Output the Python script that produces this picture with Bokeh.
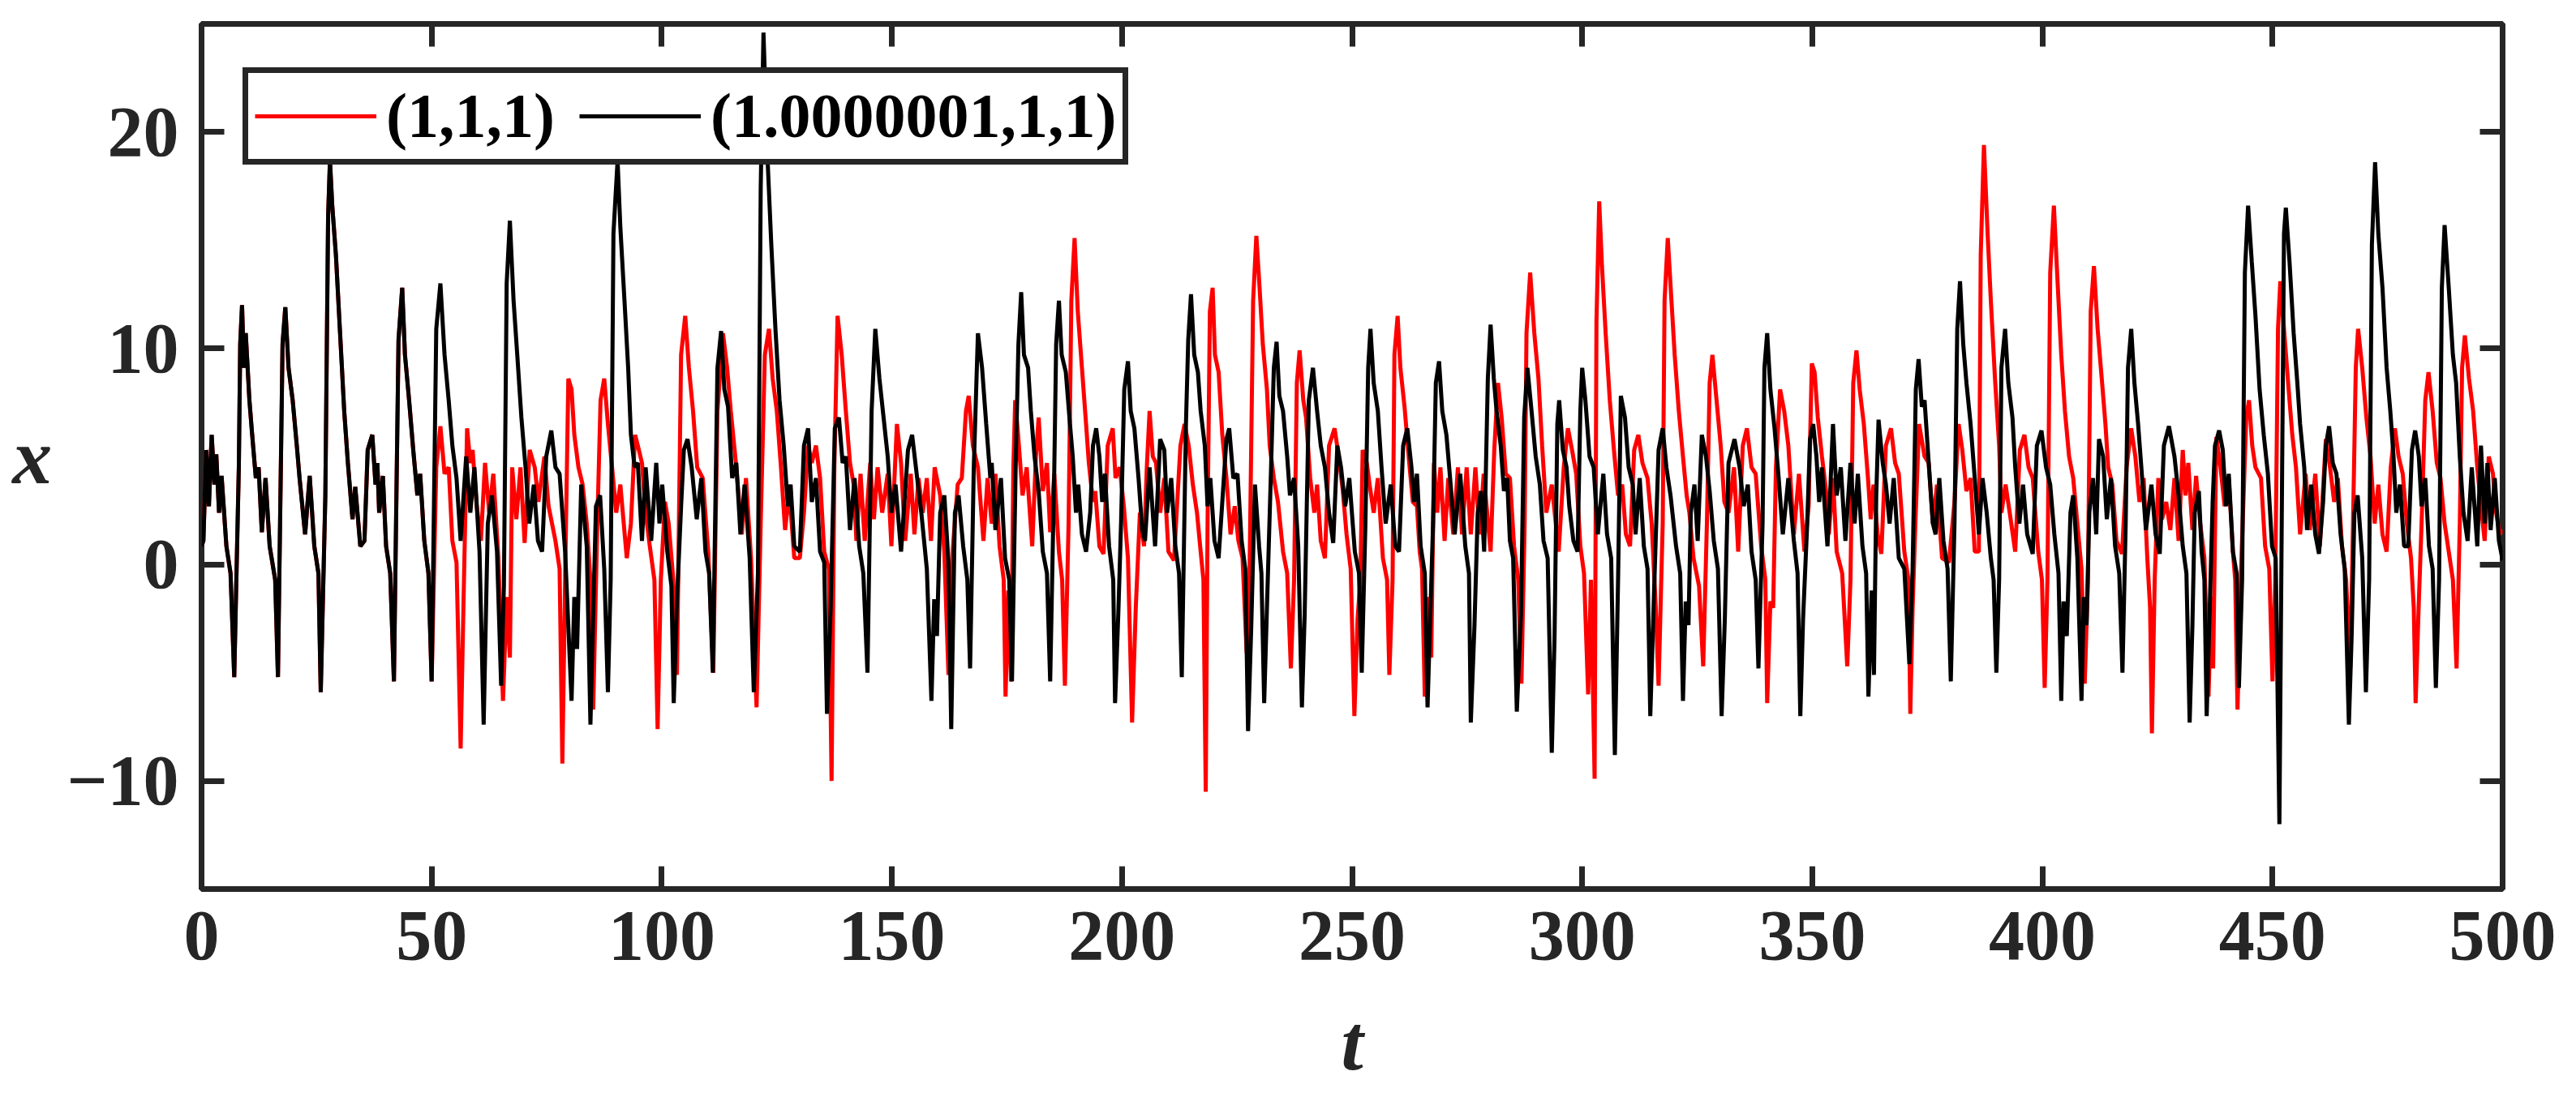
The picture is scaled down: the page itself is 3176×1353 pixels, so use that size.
from bokeh.plotting import figure
from bokeh.models import (ColumnDataSource, Range1d, FixedTicker, LinearAxis,
                          Legend, LegendItem, Label)
from bokeh.embed import file_html
from bokeh.resources import INLINE

# x(t): both runs coincide up to t ~ 50
shared_t = [0, 0.4, 1.0, 1.6, 2.2, 2.8, 3.2, 3.8, 4.35, 5.4, 6.3, 7.1, 8.1, 8.4, 8.8, 9.2, 9.6,
            10.4, 11.0, 11.8, 12.4, 13.1, 13.9, 14.8, 16.0, 16.6, 17.6, 18.2, 18.9, 19.8, 20.7,
            21.3, 22.5, 23.5, 24.5, 25.4, 25.9, 26.9, 27.5, 27.9, 28.4, 29.2, 30.1, 31.0, 31.8,
            32.8, 33.4, 34.5, 35.4, 36.1, 37.1, 37.8, 38.2, 38.6, 39.4, 40.1, 41.0, 41.8, 42.8,
            43.6, 44.2, 45.1, 46.0, 46.9, 47.5, 48.4, 49.3, 50.0]
shared_x = [0.85, 1.1, 5.3, 2.7, 6.0, 3.7, 5.1, 2.4, 4.1, 0.85, -0.4, -5.2, 4.5, 10.2, 12.0, 9.1, 10.7,
            7.6, 6.0, 4.0, 4.5, 1.5, 4.0, 0.85, -0.7, -5.2, 10.2, 11.9, 9.1, 7.6, 5.5,
            4.0, 1.4, 4.1, 0.85, -0.4, -5.9, 3.2, 16.1, 18.7, 16.6, 14.3, 10.7, 7.1, 4.7,
            2.1, 3.6, 0.85, 1.1, 5.3, 6.0, 3.7, 4.7, 2.4, 4.1, 0.85, -0.4, -5.4, 10.4,
            12.8, 9.7, 7.6, 5.3, 3.2, 4.2, 1.1, -0.4, -5.4]

# initial condition (1,1,1), after the split
red_t = [51.0, 51.9, 52.8, 53.7, 54.5, 55.4, 56.3, 56.9, 57.7, 58.4, 58.9, 59.8, 60.7, 61.6, 62.5,
         63.4, 64.5, 65.5, 66.3, 67.0, 67.5, 68.4, 69.3, 70.2, 71.3, 72.4, 73.2, 74.5, 75.4, 76.9,
         77.8, 78.4, 79.0, 79.7, 80.4, 81.0, 81.9, 82.8, 83.7, 84.5, 85.1,
         86.0, 86.7, 87.5, 88.3, 89.2, 90.1, 91.0, 92.4, 93.3, 94.2, 94.8, 95.7, 96.5, 97.4, 98.4,
         99.1, 99.8, 100.7, 101.5, 102.5, 103.3, 104.2, 105.1, 105.9, 106.8, 107.7, 108.9, 110.1,
         111.2, 112.1, 113.3, 114.2, 115.0, 116.2, 117.4, 118.3, 119.4, 120.6, 121.5, 122.4, 123.3,
         124.1, 125.0, 125.9, 126.8, 127.7, 128.8, 130.0, 130.9, 131.8, 132.6, 133.5, 134.4, 135.3,
         136.3, 136.9, 137.5, 138.2, 139.1, 140.0, 140.9, 141.7, 142.3, 143.2, 144.1, 145.3, 146.1,
         146.9, 147.9, 149.1, 149.9, 151.1, 152.0, 152.9, 154.1, 154.9, 155.8, 156.7, 157.6, 158.5,
         159.3, 160.5, 161.4, 162.3, 163.2, 164.3, 165.2, 166.1, 166.7, 167.6, 168.7, 169.9, 170.8,
         171.7, 172.5, 173.4, 174.3, 174.7, 175.3, 175.9, 176.4, 176.8, 177.5, 178.4, 179.3, 180.5,
         181.3, 181.9, 182.8, 183.7, 184.4, 185.3, 186.3, 187.0, 187.6, 188.4, 189.0, 189.7, 190.4,
         191.3, 192.2, 192.8, 193.7, 194.2, 195.1, 196.0, 196.9, 198.0, 198.6, 199.5, 200.4, 201.3,
         202.2, 203.0, 203.9, 204.8, 205.4, 206.0, 206.7, 207.4, 208.3, 209.2, 210.1, 211.3, 212.7,
         213.6, 214.5, 215.4, 216.3, 217.1, 217.7, 218.2, 218.6, 219.1, 219.7, 220.2, 221.0, 221.8,
         222.7, 223.6, 224.5, 225.3, 226.2, 227.1, 227.7, 228.5, 229.2, 229.9, 230.6, 231.5, 232.1,
         233.0, 233.9, 235.0, 235.9, 236.7, 237.4, 238.0, 238.6, 239.4, 240.0, 240.9, 241.8, 242.4,
         243.2, 244.1, 245.0, 246.2, 247.1, 248.0, 248.8, 249.7, 250.5, 251.2, 251.8, 252.3, 253.2,
         253.8, 254.7, 255.6, 256.7, 257.6, 258.1, 258.8,
         259.2, 259.9, 260.5, 261.4, 262.3, 263.2, 264.1, 264.7, 265.2, 265.8, 266.6, 267.2, 267.8,
         268.5, 269.2, 270.1, 270.9, 272.0, 273.0, 273.9, 274.9, 275.8, 276.8, 277.7, 278.6, 280.1,
         280.9, 281.7, 282.5, 283.4, 284.3, 285.2, 286.1, 286.8, 287.5, 287.9, 288.7, 289.6, 290.5,
         291.3, 292.2, 293.4, 294.9, 296.0, 296.9, 297.8, 298.7, 299.6, 300.4, 301.3, 301.9, 302.7,
         303.1, 303.7, 304.3, 305.1, 306.0, 306.9, 307.8, 308.7, 309.5, 310.4, 311.3, 312.2, 313.1,
         314.2, 315.1, 316.0, 316.6, 317.5, 317.9, 318.6, 319.4, 320.1, 321.0, 321.9, 322.7, 323.3,
         324.2, 325.4, 326.3, 327.1, 327.7, 328.3, 329.2, 330.1, 330.9, 331.8, 333.0, 333.9, 334.9,
         335.8, 336.8, 337.7, 338.9, 339.8, 340.2, 340.9, 341.5, 342.1, 343.0, 343.9, 344.8,
         346.0, 347.1, 348.3, 349.2, 349.9, 350.5, 351.2, 352.1, 353.0, 353.6, 354.5, 355.3, 356.5,
         357.6, 358.3, 358.9, 359.6, 360.3, 361.2, 362.1, 362.7, 363.3, 364.2, 365.0, 366.0, 367.1,
         368.0, 368.8, 370.0, 370.9, 371.3, 371.8, 372.4, 373.2, 374.4, 375.3, 376.2, 377.1, 378.2,
         379.7, 380.9, 381.8, 382.6, 383.5, 384.4, 385.3, 386.2, 386.6, 387.3, 388.1, 388.8, 389.7,
         390.6, 391.1, 392.0, 392.9, 394.1, 395.1, 396.1, 397.0, 397.9, 399.1, 399.9, 400.5, 401.1,
         401.7, 402.5, 403.2, 404.1, 404.9, 405.8, 406.7, 407.6, 408.5, 409.2, 409.9, 410.5, 411.2,
         412.0, 412.9, 413.7, 414.3, 415.2, 416.1, 417.3, 418.3, 419.3, 420.2, 421.1, 422.0, 422.8,
         423.4, 423.8, 424.4, 425.2, 426.0, 426.9, 427.8, 428.7, 429.6, 430.5,
         431.1, 431.7, 432.6, 433.4, 434.3, 435.2, 436.1, 436.7, 437.1, 437.8, 438.7, 439.6, 440.5,
         441.4, 441.9, 442.4, 443.1, 444.3, 444.9, 445.6, 446.3, 447.5, 448.4, 449.3, 450.0, 450.6,
         451.2, 451.7, 452.5, 453.4, 454.3, 455.1, 456.0, 457.2, 458.1, 459.3, 460.3, 461.6, 462.5,
         463.4, 464.2, 465.1, 466.0, 466.9, 467.5, 468.1, 468.6, 469.5, 470.4, 471.3, 472.2, 473.0,
         473.9, 474.8, 475.7, 476.6, 477.4, 478.3, 479.2, 480.1, 480.7, 481.1, 481.8, 482.4, 483.2,
         483.9, 484.8, 485.7, 486.5, 487.4, 488.3, 489.2, 490.0, 490.7, 491.2, 491.8, 492.7, 493.6,
         494.5, 495.3, 496.1, 497.0, 497.9, 498.6, 499.4, 500.0]
red_x = [4.5, 6.4, 4.2, 4.5, 1.1, 0.1, -8.5, -2.0, 6.3, 4.7, 5.3, 2.7, 1.1, 4.7, 2.4,
         4.2, 0.3, -6.3, -1.5, -4.3, 4.5, 2.1, 4.5, 1.0, 5.3, 4.5, 2.9, 5.0, 2.7, 1.1,
         -0.2, -9.2, -0.7, 8.6, 8.1, 6.0, 4.5, 3.7, 1.9, -0.7, -6.7,
         1.9, 7.6, 8.6, 6.5, 4.5, 2.4, 3.7, 0.3, 1.9, 6.0, 5.5, 4.7, 2.4, 0.85, -0.7,
         -7.6, -0.7, 2.9, 1.9, -0.7, -5.1, 9.7, 11.5, 9.1, 7.1, 4.5, 4.0, 0.6,
         -5.0, 7.1, 10.7, 9.1, 7.1, 4.5, 1.4, 4.0, 0.3, -6.6, 1.9, 9.7, 10.9,
         8.6, 7.1, 4.5, 1.6, 3.4, 0.3, 0.3, 2.4, 5.5, 4.7, 5.5, 4.0, 0.6,
         -0.2, -10.0, 4.5, 11.5, 9.7, 7.1, 4.7, 3.7, 1.1, 4.2, 1.1, 4.7, 2.1,
         4.5, 2.4, 4.2, 0.85, 6.5, 4.7, 1.1, 4.2, 1.4, 4.0, 2.4, 4.0, 1.1,
         4.5, 3.2, 0.6, -5.1, 0.6, 3.7, 4.0, 7.1, 7.8, 5.5, 4.5, 1.1, 4.0,
         1.9, 4.2, 0.85, -0.7, -6.1, -1.2, -5.4, 4.5, 7.6, 5.8, 3.2, 4.5, 0.85,
         5.0, 6.8, 3.4, 4.7, 1.5, 4.2, 0.6, -0.7, -5.6, 1.9, 12.2, 15.1, 11.7,
         9.1, 6.5, 4.7, 2.9, 3.4, 0.85, 0.5, 5.5, 6.3, 4.0, 4.5, 2.7, 0.3,
         -7.3, -2.0, 2.4, 0.85, 4.5, 7.1, 5.0, 4.7, 2.4, 4.0, 0.6, 0.2, 5.5,
         6.5, 5.5, 3.7, 2.4, 0.6, -0.7, -10.5, 1.9, 11.7, 12.8, 9.7, 8.9, 6.0,
         4.0, 1.4, 2.7, 1.1, 0.3, -4.1, -0.7, 12.2, 15.2, 12.8, 10.2, 8.1, 5.5,
         4.0, 2.9, 0.6, -0.4, -4.8, -0.7, 8.4, 9.9, 7.6, 6.8, 4.0, 2.4, 3.7,
         1.1, 0.3, 5.5, 6.3, 5.0, 3.4, 1.4, -0.2, -7.0, -2.5, -0.7, 5.3, 4.7,
         3.7, 2.4, 4.0, 0.3, -0.7, -5.1, -0.7,
         9.7, 11.5, 9.1, 7.3, 5.0, 2.9, 2.7, 0.6, -0.2, -6.1, -1.5, -4.3, 4.7,
         2.4, 4.5, 1.1, 4.0, 1.4, 4.5, 1.4, 4.5, 1.4, 4.5, 1.4, 4.2, 0.6,
         5.3, 8.4, 6.8, 4.2, 4.0, 0.85, -0.7, -5.5, 1.9, 10.7, 13.5, 10.7, 8.6,
         5.5, 2.4, 3.7, 0.6, 4.5, 6.3, 5.3, 4.2, 0.85, -0.4, -6.0, -0.7, -9.9,
         11.2, 16.8, 13.8, 10.7, 7.6, 5.3, 3.2, 3.7, 1.4, 0.85, 5.3, 6.0, 4.7,
         4.0, 1.9, -2.0, -5.6, 1.9, 12.2, 15.1, 12.2, 9.7, 7.1, 5.0, 3.2, 2.4,
         0.3, -1.0, -4.7, 1.9, 8.4, 9.7, 7.6, 5.5, 2.9, 2.4, 4.5, 0.6, 5.5,
         6.3, 4.5, 4.2, 0.85, -0.7, -6.4, -1.7, -2.0, 4.5, 8.1, 7.1, 5.5,
         1.4, 4.2, 0.6, 2.7, 9.3, 8.9, 6.8, 5.0, 3.4, 1.4, 4.0, 0.6, -0.4,
         -4.7, -0.7, 8.4, 9.9, 8.1, 6.5, 4.0, 2.1, 3.7, 1.4, 0.5, 5.5, 6.3,
         4.7, 4.2, 0.6, -0.7, -6.9, -2.0, 1.9, 6.5, 5.0, 4.7, 1.9, 3.7, 0.3,
         0.1, 2.9, 6.5, 5.3, 3.4, 4.0, 0.6, 0.6, 14.3, 19.4, 15.3, 12.2, 8.6,
         5.5, 2.4, 3.7, 2.4, 0.6, 5.3, 6.0, 4.5, 4.0, 0.6, -0.7, -5.7, -0.7,
         13.5, 16.6, 13.5, 9.7, 7.1, 5.0, 4.0, 1.9, -0.2, -5.5, -0.7, 11.7, 13.8,
         10.9, 8.6, 6.5, 4.5, 3.7, 1.1, 0.5, 4.5, 6.3, 5.0, 2.9, 4.0, 0.3,
         -2.0, -7.8, -0.7, 4.0, 2.1, 2.9, 1.6, 4.0, 1.1, 5.3,
         3.2, 4.7, 1.6, 4.1, 1.9, 0.3, -6.1, -1.5, -4.8, 5.9, 4.5, 2.7, 4.0,
         0.6, -0.7, -6.7, -0.7, 6.8, 7.6, 5.5, 4.5, 4.0, 0.85, -0.2, -5.4, -0.7,
         10.9, 13.1, 10.9, 8.4, 6.0, 4.5, 1.4, 4.2, 1.6, 4.2, 0.85, 5.8, 4.5,
         2.9, 4.0, 0.85, -0.7, -4.8, 1.9, 9.1, 10.9, 9.1, 6.8, 5.0, 1.9, 3.7,
         1.4, 0.6, 4.5, 6.3, 5.0, 4.2, 1.9, 0.3, -2.0, -6.4, -1.7, 1.9, 7.6,
         8.9, 7.1, 4.7, 4.0, 1.9, 0.6, -0.7, -4.8, 1.9, 9.1, 10.6, 8.6, 7.1,
         4.5, 2.7, 1.1, 5.0, 4.2, 2.4, 1.4, 1.6]

# initial condition (1.0000001,1,1), after the split
black_t = [51.0, 51.9, 52.8, 53.7, 54.5, 55.4, 56.3, 57.5, 58.4, 59.3, 60.4, 61.3, 62.2, 63.1, 64.2,
           65.1, 65.7, 66.3, 67.0, 67.8, 68.6, 69.5, 70.4, 71.2, 72.2, 73.1, 74.0, 74.9, 76.0, 76.9,
           77.8, 79.0, 80.4, 81.0, 81.6, 82.5, 83.7, 84.5, 85.7, 86.6,
           87.5, 88.3, 88.9, 89.5, 90.4, 91.0, 91.9, 92.7, 93.3, 94.1, 94.8, 95.7, 96.5, 97.7, 98.8,
           99.5, 100.1, 101.2, 102.1, 102.6, 103.3, 104.2, 104.8, 105.6, 106.5, 107.6, 108.6, 109.5,
           110.3, 111.1, 112.1, 112.9, 113.6, 114.4, 115.3, 116.2, 117.1, 118.0, 119.1, 120.0, 120.9,
           121.5, 122.1, 123.0, 123.8, 124.7, 125.6, 126.5, 127.4, 128.0, 128.8, 130.0, 130.9, 131.8,
           132.6, 133.5, 134.4, 135.3, 135.9, 136.7, 137.6, 138.5, 139.3, 140.0, 140.9, 141.9, 142.9,
           143.8, 144.7, 145.6, 146.4, 147.3, 148.2, 149.1, 149.9, 150.8, 152.0, 153.5, 154.4, 155.5,
           156.4, 157.6, 158.6, 159.2, 159.8, 160.5, 161.4, 162.3, 162.9, 163.7, 164.5, 165.5, 166.4,
           167.0, 167.8, 168.7, 169.6, 170.5, 171.4,
           171.7, 172.5, 173.7, 174.6, 175.5, 176.1, 176.9, 177.5, 178.1, 178.7, 179.6, 180.2, 181.0,
           181.9, 182.8, 183.7, 184.4, 185.3, 185.7, 186.3, 186.9, 187.8, 188.7, 189.3, 190.0, 190.5,
           191.3, 192.2, 193.1, 193.7, 194.4, 195.1, 195.7, 196.3, 197.2, 198.1, 198.5, 199.2, 199.8,
           200.5, 201.3, 201.9, 202.7, 203.6, 204.4, 205.0, 206.0, 207.2, 208.3, 209.2, 209.8, 210.7,
           211.6, 212.4, 213.0, 213.9, 214.4, 215.0, 215.7, 216.5, 217.1, 218.0, 218.6, 219.2, 220.1,
           221.0, 221.8, 222.7, 223.3, 224.2, 225.1, 226.0, 226.8, 227.4, 228.1, 228.9, 229.8, 230.3,
           230.9, 231.5, 232.4, 233.0, 233.6, 234.2, 235.0, 235.9, 236.5, 237.4, 238.3, 239.1, 239.7,
           240.6, 241.5, 242.4, 243.2, 244.1, 245.0, 245.9, 246.8, 247.6, 248.5, 249.4, 250.6, 251.5,
           252.1, 252.9, 253.5, 254.0, 254.7, 255.6, 256.4, 257.3, 258.4,
           259.4, 260.2, 261.1, 262.0, 262.9, 263.5, 264.1, 264.9, 265.8, 266.4, 267.0, 267.6, 268.2,
           268.9, 269.6, 270.5, 271.3, 272.3, 273.5, 274.6, 275.4, 275.8, 276.6, 277.3, 278.0, 278.7,
           279.5, 280.1, 280.8, 281.4, 282.3, 283.0, 283.7, 284.3, 285.0, 285.8, 286.7, 287.4, 288.1,
           289.0, 289.9, 290.8, 291.6, 292.5, 293.4, 294.0, 294.6, 295.0, 295.8, 296.6, 297.2, 298.1,
           299.0, 299.6, 300.0, 300.7, 301.6, 302.5, 303.4, 304.6, 305.4, 306.3, 307.1, 307.8, 308.4,
           309.3, 310.1, 311.0, 311.6, 312.5, 313.4, 314.2, 314.8, 315.7, 316.6, 317.5, 318.3, 319.2,
           320.4, 321.3, 321.9, 322.5, 323.1, 323.6, 324.4, 325.1, 326.0, 326.9, 327.7, 328.6, 329.5,
           330.3, 331.0, 331.8, 333.1, 334.2, 335.1, 336.0, 336.8, 337.7, 338.3, 339.2, 339.6, 340.2,
           340.9, 341.8, 342.7, 343.6, 344.8,
           346.0, 346.8, 347.4, 348.0, 348.9, 349.5, 350.2, 350.9, 351.5, 352.1, 353.3, 353.9, 354.5,
           355.3, 356.2, 357.2, 358.3, 359.2, 359.9, 360.9, 361.7, 362.2, 362.9, 363.4, 363.9, 364.4,
           365.3, 366.0, 366.8, 367.7, 368.8, 370.0, 371.1, 371.8, 372.5, 373.1, 373.8, 374.4, 375.3,
           376.2, 376.8, 377.6, 378.5, 379.4, 380.1, 380.9, 381.5, 382.1, 382.8, 383.5, 384.4, 385.3,
           386.2, 387.0, 387.9, 388.8, 389.4, 390.0, 390.6, 391.1, 391.9, 392.6, 393.5, 394.1, 395.0,
           395.8, 396.7, 397.9, 398.8, 399.8, 400.8, 401.7, 402.6, 403.5, 404.1, 404.6, 405.3, 406.1,
           406.7, 407.6, 408.5, 409.0, 409.6, 410.2, 411.0, 411.7, 412.3, 413.2, 414.0, 414.9, 415.8,
           416.7, 417.4, 418.1, 418.6, 419.3, 420.0, 420.8, 421.5, 422.5, 423.7, 424.6, 425.5, 426.4,
           427.5, 428.7, 429.6, 430.5, 431.3,
           432.0, 432.6, 433.1, 434.0, 434.6, 435.2, 435.7, 436.3, 437.0, 437.5, 438.4, 439.2, 439.9,
           440.5, 441.4, 442.2, 442.7, 443.4, 444.0, 444.7, 445.5, 446.3, 447.2, 448.1, 449.0, 449.9,
           450.7, 451.5, 452.1, 452.5, 452.9, 453.7, 454.6, 455.4, 456.0, 456.9, 457.5, 458.4, 459.3,
           460.1, 461.0, 461.6, 462.3, 463.1, 463.9, 464.8, 465.7, 466.6, 467.2, 467.8, 468.5, 469.5,
           470.3, 471.0, 471.6, 472.3, 473.0, 473.9, 474.8, 475.6, 476.3, 476.9, 477.7, 478.6, 479.5,
           480.3, 481.0, 481.8, 482.4, 483.2, 484.0, 484.8, 485.5, 486.2, 486.8, 487.4, 488.3, 489.2,
           489.9, 490.7, 491.5, 492.4, 493.3, 494.5, 495.3, 496.1, 496.7, 497.4, 498.3, 499.2, 500.0]
black_x = [10.9, 13.0, 9.7, 7.6, 5.5, 4.0, 1.1, 5.0, 2.4, 4.5, 0.6, -7.4, 1.9, 3.2, 0.6,
           -5.6, -1.0, 13.0, 15.9, 12.2, 9.7, 6.8, 4.5, 1.9, 3.7, 1.1, 0.6, 5.0, 6.2, 4.5,
           4.2, 0.6, -6.3, -1.5, -3.9, 3.7, 0.85, -7.4, 2.7, 3.2,
           -0.2, -5.9, -0.7, 15.3, 18.7, 15.6, 12.2, 9.1, 6.0, 4.5, 4.7, 1.1, 4.5, 1.1, 4.7,
           1.9, 3.7, 0.6, -1.0, -6.4, -1.7, 2.7, 5.3, 5.8, 4.5, 2.1, 4.0, 0.6,
           -0.4, -5.0, 9.1, 10.8, 8.1, 7.3, 4.0, 4.7, 1.4, 3.7, 0.3, -5.9, -0.4,
           17.4, 24.6, 18.7, 14.8, 10.9, 7.6, 5.5, 2.7, 3.7, 0.85, 0.6, 5.5, 6.3,
           2.9, 4.0, 0.6, 0.1, -6.9, -2.0, 6.3, 6.8, 4.7, 5.0, 1.6, 4.0, 0.85,
           -0.4, -5.0, 7.1, 10.9, 8.6, 6.8, 5.0, 2.4, 3.7, 0.6, 5.3, 6.0, 4.0,
           2.4, -0.2, -6.3, -1.6, -3.3, 2.4, 3.2, 0.1, -7.6, 2.4, 3.2, 0.85, -0.7,
           -4.8, 4.5, 10.7, 9.1, 6.5, 4.0,
           4.7, 1.6, 4.0, 0.3, -0.7, -5.4, 4.5, 10.2, 12.6, 9.7, 9.1, 7.1, 5.0,
           3.4, 0.6, -0.4, -5.4, 4.5, 10.2, 12.2, 9.7, 8.9, 6.5, 5.0, 2.4, 3.7,
           1.4, 0.6, 2.4, 5.5, 6.3, 5.0, 2.9, 4.2, 0.85, -0.7, -6.4, -2.3, 1.9,
           8.1, 9.4, 7.1, 6.3, 4.0, 1.6, 1.1, 4.5, 0.85, 5.8, 5.3, 2.4, 4.0,
           0.85, -0.4, -5.2, 6.5, 10.4, 12.5, 9.7, 8.9, 7.1, 5.5, 2.7, 4.0, 1.1,
           0.3, 2.9, 5.8, 6.3, 4.0, 4.2, 1.1, -0.2, -7.7, -2.8, 3.7, 0.85, -0.4,
           -6.4, -2.0, 4.5, 9.1, 10.3, 7.8, 7.1, 5.0, 3.2, 4.0, 0.85, -6.6, -2.3,
           7.6, 9.1, 7.1, 5.5, 4.5, 2.4, 1.0, 5.5, 4.5, 2.7, 4.0, 0.6, -0.4,
           -5.0, 1.9, 9.1, 10.9, 8.4, 7.1, 4.5, 1.9, 3.7,
           0.85, 0.6, 5.5, 6.3, 4.5, 2.9, 4.2, 0.85, -0.4, -6.6, -2.3, 1.9, 8.4,
           9.4, 7.1, 6.0, 4.0, 1.4, 4.2, 0.85, -0.4, -7.3, -2.8, 2.4, 3.4, 0.6,
           8.6, 11.1, 8.6, 7.1, 5.5, 3.4, 4.0, 1.1, 0.3, -6.8, -2.3, 6.8, 9.1,
           7.1, 5.0, 3.7, 1.1, 0.3, -8.7, -3.3, 6.5, 7.6, 5.3, 4.5, 2.7, 1.1,
           0.6, 7.1, 9.1, 7.6, 5.0, 4.5, 1.4, 4.2, 1.4, 0.3, -8.8, -0.7, 7.8,
           6.8, 4.5, 3.7, 1.4, 4.0, 0.85, -0.2, -7.0, -0.7, 5.3, 6.3, 4.5, 3.2,
           0.85, -0.4, -6.3, -1.7, -2.8, 2.4, 3.7, 1.1, 6.0, 5.0, 3.4, 1.1, -0.2,
           -7.0, -2.5, 4.7, 5.8, 4.5, 2.7, 3.7, 0.6, -0.7, -4.8, 1.9, 9.1, 10.7,
           8.1, 6.3, 4.0, 1.4, 4.0,
           1.1, -0.4, -7.0, -2.5, 1.9, 5.8, 6.5, 5.0, 2.9, 4.5, 0.85, 3.4, 6.5,
           3.2, 4.5, 1.1, 4.7, 1.9, 4.2, 0.85, -0.4, -6.1, -1.2, -5.1, 3.2, 6.7,
           4.7, 3.7, 1.9, 4.0, 0.3, -0.2, -4.6, -0.2, 8.1, 9.5, 7.3, 7.6, 4.7,
           1.9, 1.4, 4.0, 1.1, -0.2, -5.4, 1.9, 10.9, 13.1, 10.2, 8.4, 6.5, 4.0,
           1.4, 4.0, 2.4, 0.3, -0.7, -5.0, -0.7, 9.1, 10.9, 8.4, 6.8, 4.5, 1.9,
           3.7, 1.4, 0.5, 5.5, 6.2, 4.5, 3.7, 1.4, -0.4, -6.3, -1.7, -3.3, 2.4,
           3.2, 0.3, -6.3, -1.5, -2.8, 2.4, 4.0, 1.4, 5.8, 5.0, 2.1, 4.0, 0.85,
           -0.4, -5.0, 1.9, 9.1, 10.9, 8.4, 6.5, 4.5, 1.6, 3.7, 1.4, 0.5, 5.5,
           6.4, 5.0, 3.2, 0.85, -0.4,
           -7.3, -2.8, 2.4, 3.4, 0.6, -0.7, -7.0, -2.5, 2.9, 5.5, 6.2, 5.3, 2.7,
           4.2, 0.6, -0.4, -5.7, -0.7, 13.5, 16.6, 14.0, 11.5, 8.1, 6.0, 4.2, 0.85,
           0.3, -12.0, 4.5, 15.3, 16.5, 14.0, 10.7, 8.4, 6.5, 4.5, 1.6, 3.7, 1.4,
           0.5, 2.9, 5.5, 6.4, 4.7, 4.2, 1.4, -0.2, -7.4, -3.3, 2.4, 3.2, 0.3,
           -5.9, -0.7, 14.8, 18.6, 15.3, 12.8, 9.1, 7.1, 5.0, 2.4, 3.7, 0.85, 0.85,
           5.3, 6.2, 5.0, 2.7, 4.0, 0.85, -0.2, -5.7, -0.7, 12.8, 15.7, 12.8, 9.7,
           8.4, 5.0, 2.4, 1.1, 4.5, 0.85, 5.5, 1.9, 4.7, 1.6, 4.0, 1.1, 0.2]

x_ticks = [0, 50, 100, 150, 200, 250, 300, 350, 400, 450, 500]
y_ticks = [-10, 0, 10, 20]
labels = ["(1,1,1)", "(1.0000001,1,1)"]

AX = "#262626"
FONT = "Liberation Serif"

red_src = ColumnDataSource(dict(t=shared_t + red_t, x=shared_x + red_x))
black_src = ColumnDataSource(dict(t=shared_t + black_t, x=shared_x + black_x))

# the axes box is fixed; the canvas grows round it
p = figure(frame_width=2837, frame_height=1067, output_backend="svg", toolbar_location=None,
           x_range=Range1d(0, 500), y_range=Range1d(-15, 25),
           min_border_left=248, min_border_right=75, min_border_top=29, min_border_bottom=0)
p.background_fill_color = "white"
p.border_fill_color = "white"
p.grid.visible = False
p.outline_line_color = AX
p.outline_line_width = 7

r_red = p.line("t", "x", source=red_src, line_color="#ff0000", line_width=5)
r_black = p.line("t", "x", source=black_src, line_color="#000000", line_width=5)


def style_axis(ax, ticks, show_labels):
    ax.ticker = FixedTicker(ticks=ticks)
    ax.axis_line_color = None
    ax.major_tick_in = 28
    ax.major_tick_out = 0
    ax.major_tick_line_width = 7
    ax.major_tick_line_color = AX
    ax.minor_tick_line_color = None
    if show_labels:
        ax.major_label_text_font = FONT
        ax.major_label_text_font_style = "bold"
        ax.major_label_text_font_size = "88px"
        ax.major_label_text_color = AX
        ax.major_label_text_line_height = 1.0
        ax.major_label_standoff = 28
        ax.axis_label_text_font = FONT
        ax.axis_label_text_font_style = "bold italic"
        ax.axis_label_text_font_size = "98px"
        ax.axis_label_text_color = AX
        ax.axis_label_text_line_height = 1.0
    else:
        ax.major_label_text_color = None
        ax.major_label_text_font_size = "0px"
        ax.major_label_standoff = 0


style_axis(p.xaxis[0], x_ticks, True)
style_axis(p.yaxis[0], y_ticks, True)
p.yaxis[0].major_label_overrides = {-10: "\u221210"}

p.xaxis[0].axis_label = "t"
p.xaxis[0].axis_label_standoff = 46

# the y name stands upright in the picture
if "axis_label_orientation" in p.yaxis[0].properties():
    p.yaxis[0].axis_label = "x"
    p.yaxis[0].axis_label_orientation = "horizontal"
    p.yaxis[0].axis_label_standoff = 15
else:
    p.add_layout(Label(x=-206, y=522, x_units="screen", y_units="screen", text="x",
                       text_font=FONT, text_font_style="bold italic", text_font_size="98px",
                       text_color=AX, text_align="center", text_baseline="middle"))

top_ax = LinearAxis()
right_ax = LinearAxis()
style_axis(top_ax, x_ticks, False)
style_axis(right_ax, y_ticks, False)
p.add_layout(top_ax, "above")
p.add_layout(right_ax, "right")

legend = Legend(items=[LegendItem(label=labels[0], renderers=[r_red]),
                       LegendItem(label=labels[1], renderers=[r_black])],
                orientation="horizontal", location=(51, 893))
legend.label_text_font = FONT
legend.label_text_font_style = "bold"
legend.label_text_font_size = "78px"
legend.label_text_color = "#000000"
legend.glyph_width = 150
legend.glyph_height = 60
legend.label_height = 60
legend.label_standoff = 12
legend.spacing = 30
legend.padding = 8
legend.margin = 0
legend.border_line_color = AX
legend.border_line_width = 7
legend.border_line_alpha = 1
legend.background_fill_color = "white"
legend.background_fill_alpha = 1
p.add_layout(legend, "center")

open("out.html", "w").write(file_html(p, INLINE))
